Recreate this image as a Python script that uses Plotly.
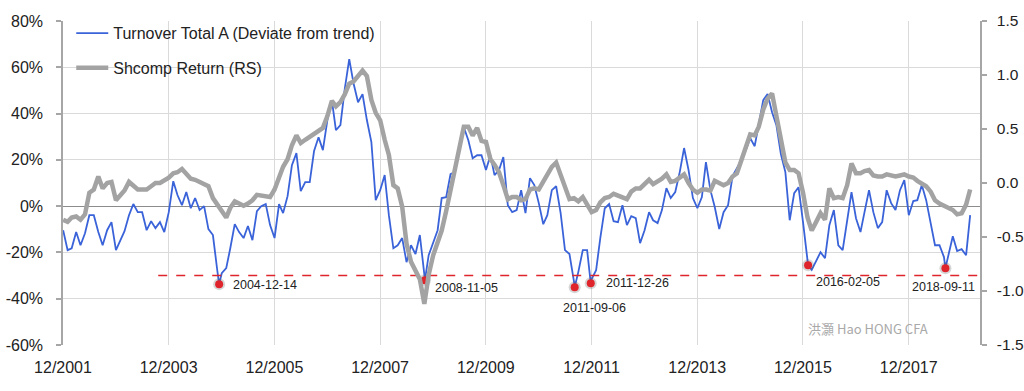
import pandas as pd
import plotly.graph_objects as go

# ---------------- data ----------------
start_month = "2002-01-01"

turnover_dev = [  # % deviation from trend, monthly from Jan 2002
    -10.4, -19.0, -18.2, -11.2, -16.9, -11.7, -3.9, -3.9, -11.2, -16.9, -10.4, -6.9,
    -19.0, -14.7, -10.8, -3.9, 0.9, -2.6, -2.6, -10.4, -6.5, -9.5, -6.9, -11.2,
    -2.6, 10.8, 4.8, 0.4, 6.1, -0.9, 3.5, -1.7, 0.0, -9.9, -12.5, -27.7,
    -29.0, -26.8, -18.2, -7.8, -11.2, -13.8, -8.6, -14.7, -2.2, 0.0, 0.9, -8.2,
    -13.8, 0.9, -3.0, 4.3, 17.7, 22.9, 6.5, 10.4, 10.4, 23.8, 29.8, 24.2,
    37.2, 45.8, 32.8, 35.0, 50.6, 63.5, 53.0, 44.9, 48.4, 37.2, 27.7, 2.6,
    6.9, 13.4, -3.9, -18.2, -16.9, -13.8, -24.2, -16.9, -20.7, -12.5, -29.5, -21.2,
    -15.6, -10.4, 3.5, 3.9, 13.8, 14.7, 25.9, 34.1, 28.5, 20.7, 22.0, 22.0,
    15.6, 22.0, 13.4, 15.6, 21.2, 0.4, -2.6, -1.7, 6.9, -3.0, 12.1, 9.1,
    1.3, -7.8, -3.9, 6.9, 8.6, -3.0, -19.0, -20.7, -32.5, -28.5, -19.0, -19.0,
    -31.5, -27.7, -13.8, -0.9, 0.9, -6.5, -6.9, 0.4, -8.2, -4.3, -5.2, -16.0,
    -10.4, -2.6, -6.1, -7.3, -1.7, 7.8, 3.5, 6.1, 14.7, 25.1, 15.6, 3.5,
    -0.9, 3.9, 19.0, 6.9, -0.4, -9.9, -2.6, 0.4, 13.0, 16.4, 19.9, 24.2,
    29.4, 25.9, 35.4, 45.8, 48.5, 40.6, 35.0, 22.5, 14.7, -6.1, 5.6, 8.2,
    -6.9, -23.0, -27.5, -23.3, -19.9, -22.5, -8.2, -1.7, -16.9, -19.0, -6.9, 6.1,
    -5.2, -11.2, -2.6, 6.9, -2.6, -9.5, -6.9, 6.9, 1.3, -1.7, 6.9, 11.2,
    -3.9, 2.2, 2.6, 9.1, 2.6, -8.2, -16.9, -16.9, -22.0, -21.5, -13.0, -19.4,
    -18.6, -21.2, -3.9,
]

shcomp_return = [  # right scale, monthly from Jan 2002
    -0.34, -0.36, -0.32, -0.31, -0.34, -0.29, -0.09, -0.06, 0.06, -0.05, 0.00, 0.01,
    -0.16, -0.11, -0.07, 0.01, -0.03, -0.06, -0.06, -0.06, -0.03, 0.00, 0.00, 0.02,
    0.05, 0.09, 0.10, 0.13, 0.08, 0.04, 0.03, 0.01, 0.00, -0.03, -0.14, -0.20,
    -0.25, -0.32, -0.23, -0.17, -0.19, -0.21, -0.19, -0.16, -0.11, -0.12, -0.13, -0.13,
    -0.06, 0.05, 0.15, 0.22, 0.35, 0.44, 0.37, 0.40, 0.43, 0.46, 0.49, 0.51,
    0.62, 0.76, 0.71, 0.75, 0.82, 0.92, 0.94, 0.99, 1.04, 0.99, 0.77, 0.65,
    0.58, 0.40, 0.26, -0.02, -0.05, -0.22, -0.56, -0.73, -0.82, -0.89, -1.12, -0.85,
    -0.67, -0.56, -0.44, -0.26, -0.06, 0.11, 0.30, 0.52, 0.52, 0.44, 0.51, 0.39,
    0.38, 0.22, 0.17, 0.10, -0.02, -0.15, -0.13, -0.13, -0.16, -0.15, -0.06, -0.05,
    -0.06, 0.02, 0.07, 0.15, 0.19, 0.07, -0.05, -0.15, -0.14, -0.17, -0.13, -0.19,
    -0.27, -0.25, -0.18, -0.14, -0.13, -0.10, -0.12, -0.14, -0.15, -0.08, -0.05, -0.05,
    -0.01, 0.03, -0.01, 0.01, 0.04, 0.08, 0.01, 0.02, 0.05, 0.08, 0.00, -0.06,
    -0.09, -0.06, -0.06, -0.07, 0.02, 0.00, -0.02, 0.00, 0.06, 0.09, 0.21, 0.35,
    0.45, 0.44, 0.52, 0.68, 0.78, 0.83, 0.63, 0.44, 0.19, 0.12, 0.12, 0.09,
    -0.09, -0.32, -0.44, -0.36, -0.28, -0.34, -0.05, -0.14, -0.13, -0.14, -0.02, 0.18,
    0.09, 0.09, 0.11, 0.12, 0.07, 0.06, 0.06, 0.08, 0.07, 0.06, 0.07, 0.08,
    0.06, 0.05, 0.02, 0.00, -0.03, -0.08, -0.16, -0.19, -0.21, -0.23, -0.25, -0.29,
    -0.28, -0.20, -0.06,
]

low_dates = ["2004-12-14", "2008-11-05", "2011-09-06", "2011-12-26", "2016-02-05", "2018-09-11"]
low_values = [-33.7, -32.0, -35.0, -33.3, -25.5, -26.8]

threshold_value = -30
threshold_dates = ["2003-10-20", "2019-05-08"]

x_tick_dates = ["2001-12-31", "2003-12-31", "2005-12-31", "2007-12-31", "2009-12-31",
                "2011-12-31", "2013-12-31", "2015-12-31", "2017-12-31"]
x_tick_text = ["12/2001", "12/2003", "12/2005", "12/2007", "12/2009",
               "12/2011", "12/2013", "12/2015", "12/2017"]
x_range = ["2001-12-31", "2019-05-08"]

left_tick_vals = [-60, -40, -20, 0, 20, 40, 60, 80]
left_tick_text = ["-60%", "-40%", "-20%", "0%", "20%", "40%", "60%", "80%"]
right_tick_vals = [-1.5, -1.0, -0.5, 0.0, 0.5, 1.0, 1.5]
right_tick_text = ["-1.5", "-1.0", "-0.5", "0.0", "0.5", "1.0", "1.5"]

series_names = ["Turnover Total A (Deviate from trend)", "Shcomp Return (RS)"]
watermark = "洪灝 Hao HONG CFA"

# ---------------- build ----------------
months = pd.date_range(start_month, periods=len(turnover_dev), freq="MS")
blue = pd.concat([
    pd.DataFrame({"date": months, "v": turnover_dev}),
    pd.DataFrame({"date": pd.to_datetime(low_dates), "v": low_values}),
]).sort_values("date")

FONT = "Liberation Sans, Arial, sans-serif"
BLUE = "#3a63d9"
GRAY = "#a3a3a3"
RED = "#e0242b"

fig = go.Figure()
fig.add_trace(go.Scatter(x=blue["date"], y=blue["v"], mode="lines", name=series_names[0],
                         line=dict(color=BLUE, width=1.8), legendgroup="a"))
fig.add_trace(go.Scatter(x=months, y=shcomp_return, mode="lines", name=series_names[1],
                         line=dict(color=GRAY, width=4.5), yaxis="y2", legendgroup="b"))
fig.add_trace(go.Scatter(x=threshold_dates, y=[threshold_value] * len(threshold_dates),
                         mode="lines", line=dict(color=RED, width=1.4, dash="dash"),
                         showlegend=False, hoverinfo="skip"))
fig.add_trace(go.Scatter(x=low_dates, y=low_values, mode="markers",
                         marker=dict(size=12, color="rgba(90,90,90,0.25)"),
                         showlegend=False, hoverinfo="skip"))
fig.add_trace(go.Scatter(x=low_dates, y=low_values, mode="markers",
                         marker=dict(size=8, color=RED), showlegend=False))

# label offsets (style only)
label_style = [
    dict(xshift=12, yshift=-1),
    dict(xshift=8, yshift=-8),
    dict(xshift=-14, yshift=-21),
    dict(xshift=13, yshift=0),
    dict(xshift=6, yshift=-17),
    dict(xshift=-35, yshift=-19),
]
for d, v, st in zip(low_dates, low_values, label_style):
    fig.add_annotation(x=d, y=v, xref="x", yref="y", text=d, showarrow=False,
                       xanchor="left", yanchor="middle",
                       font=dict(family=FONT, size=12.5, color="#222"), **st)

fig.add_annotation(x=0.81, y=0.05, xref="paper", yref="paper", text=watermark,
                   showarrow=False, xanchor="left", yanchor="middle",
                   font=dict(family="Noto Sans CJK SC", size=13, color="#a9a9a9"))

axis_line = "#a6a6a6"
fig.update_layout(
    width=1024, height=391,
    margin=dict(l=63, r=44, t=21, b=46, pad=0),
    paper_bgcolor="white", plot_bgcolor="white",
    font=dict(family=FONT, size=16, color="#222"),
    showlegend=True,
    legend=dict(x=0.009, y=1.015, xanchor="left", yanchor="top",
                bgcolor="rgba(0,0,0,0)", font=dict(size=16, color="#222"),
                tracegroupgap=11, itemwidth=32),
    xaxis=dict(type="date", range=x_range, tickvals=x_tick_dates, ticktext=x_tick_text,
               showgrid=True, gridcolor="#dadada", gridwidth=1, showline=False,
               zeroline=False, ticks="outside", ticklen=6, tickcolor="rgba(0,0,0,0)",
               ticklabelstandoff=2, tickfont=dict(size=16), automargin=False),
    yaxis=dict(range=[-60, 80], tickvals=left_tick_vals, ticktext=left_tick_text,
               showgrid=True, gridcolor="#dadada", gridwidth=1, zeroline=True,
               zerolinecolor="#8c8c8c", zerolinewidth=1, showline=True,
               linecolor=axis_line, linewidth=1.5, ticks="outside", ticklen=5,
               tickcolor=axis_line, tickwidth=1.5, ticklabelstandoff=10,
               tickfont=dict(size=16), automargin=False),
    yaxis2=dict(range=[-1.5, 1.5], tickvals=right_tick_vals, ticktext=right_tick_text,
                overlaying="y", side="right", showgrid=False, zeroline=False,
                showline=True, linecolor=axis_line, linewidth=1.5, ticks="outside",
                ticklen=5, tickcolor=axis_line, tickwidth=1.5, ticklabelstandoff=7,
                tickfont=dict(size=15.5), automargin=False),
)

fig.write_html("out.html", config={"displayModeBar": False},
               post_script="document.body.style.margin='0';")
